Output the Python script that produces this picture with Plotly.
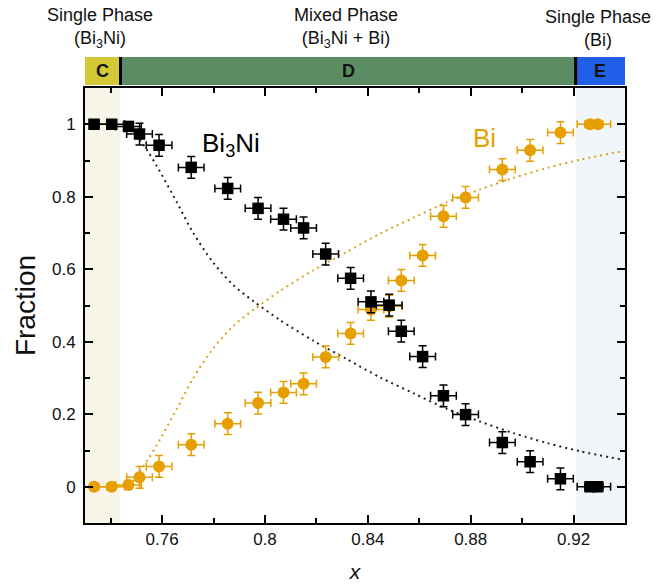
import plotly.graph_objects as go

# ---- data ----
x_comp = [0.7335, 0.7404, 0.7469, 0.7512, 0.7588, 0.7713, 0.7855, 0.7973, 0.8072, 0.8150,
          0.8236, 0.8333, 0.8412, 0.8483, 0.8530, 0.8613, 0.8694, 0.8780, 0.8923, 0.9031,
          0.9149, 0.9264, 0.9294]
bi3ni_frac = [1.0, 1.0, 0.994, 0.973, 0.942, 0.881, 0.823, 0.768, 0.738, 0.714,
              0.642, 0.575, 0.510, 0.501, 0.429, 0.359, 0.251, 0.199, 0.122, 0.069,
              0.022, 0.0, 0.0]
bi_frac = [0.0, 0.0, 0.005, 0.026, 0.056, 0.116, 0.174, 0.231, 0.260, 0.284,
           0.358, 0.423, 0.489, 0.498, 0.569, 0.638, 0.746, 0.798, 0.875, 0.928,
           0.977, 1.0, 1.0]
x_err = [0.005] * 23
y_err = [0.0, 0.0, 0.012] + [0.03] * 18 + [0.0, 0.0]

# model curves (dotted)
x_model = [0.7475, 0.7500, 0.7542, 0.7579, 0.7657, 0.7721, 0.7799, 0.7877, 0.7955, 0.8058,
           0.8188, 0.8318, 0.8447, 0.8577, 0.8707, 0.8836, 0.8966, 0.9096, 0.9225, 0.9387]
model_bi3ni = [1.0, 0.972, 0.928, 0.885, 0.785, 0.700, 0.618, 0.556, 0.512, 0.460,
               0.403, 0.352, 0.302, 0.258, 0.215, 0.180, 0.148, 0.121, 0.098, 0.075]
model_bi = [0.0, 0.028, 0.072, 0.115, 0.215, 0.300, 0.382, 0.444, 0.488, 0.540,
            0.597, 0.648, 0.698, 0.742, 0.785, 0.820, 0.852, 0.879, 0.902, 0.925]

x_range = [0.73, 0.94]
y_range = [-0.1, 1.1]
c_edge = 0.7438
e_edge = 0.9208

BLACK = "#000000"
ORANGE = "#E69F00"
FONT = "Liberation Sans, Arial, Helvetica, sans-serif"

fig = go.Figure()

fig.add_trace(go.Scatter(x=x_model, y=model_bi3ni, mode="lines",
                         line=dict(color="#222222", width=2, dash="2px,4px", shape="spline", smoothing=0.8),
                         hoverinfo="skip", showlegend=False))
fig.add_trace(go.Scatter(x=x_model, y=model_bi, mode="lines",
                         line=dict(color="#D9A21C", width=2, dash="2px,4px", shape="spline", smoothing=0.8),
                         hoverinfo="skip", showlegend=False))

fig.add_trace(go.Scatter(
    x=x_comp, y=bi_frac, mode="markers",
    marker=dict(symbol="circle", size=12, color=ORANGE, line=dict(width=0)),
    error_x=dict(type="data", array=x_err, color=ORANGE, thickness=1.5, width=4),
    error_y=dict(type="data", array=y_err, color=ORANGE, thickness=1.5, width=4),
    showlegend=False))
fig.add_trace(go.Scatter(
    x=x_comp, y=bi3ni_frac, mode="markers",
    marker=dict(symbol="square", size=11.5, color=BLACK, line=dict(width=0)),
    error_x=dict(type="data", array=x_err, color=BLACK, thickness=1.5, width=4),
    error_y=dict(type="data", array=y_err, color=BLACK, thickness=1.5, width=4),
    showlegend=False))

shapes = [
    dict(type="rect", xref="x", yref="y", x0=x_range[0], x1=c_edge, y0=y_range[0], y1=y_range[1],
         fillcolor="#F8F6E9", line=dict(width=0), layer="below"),
    dict(type="rect", xref="x", yref="y", x0=e_edge, x1=x_range[1], y0=y_range[0], y1=y_range[1],
         fillcolor="#F1F6FB", line=dict(width=0), layer="below"),
]
bar_y0, bar_y1 = 1.0069, 1.0713
shapes += [
    dict(type="rect", xref="x", yref="paper", x0=x_range[0], x1=c_edge, y0=bar_y0, y1=bar_y1,
         fillcolor="#D3C936", line=dict(width=0), layer="below"),
    dict(type="rect", xref="x", yref="paper", x0=c_edge, x1=e_edge, y0=bar_y0, y1=bar_y1,
         fillcolor="#5A8D63", line=dict(width=0), layer="below"),
    dict(type="rect", xref="x", yref="paper", x0=e_edge, x1=x_range[1], y0=bar_y0, y1=bar_y1,
         fillcolor="#1F60E6", line=dict(width=0), layer="below"),
    dict(type="line", xref="x", yref="paper", x0=c_edge, x1=c_edge, y0=bar_y0, y1=bar_y1,
         line=dict(color=BLACK, width=3)),
    dict(type="line", xref="x", yref="paper", x0=e_edge, x1=e_edge, y0=bar_y0, y1=bar_y1,
         line=dict(color=BLACK, width=3)),
]

lbl_font = dict(size=18, color="#111111", family=FONT)
bar_font = dict(size=18, color="#111111", family=FONT)
annotations = [
    dict(text="<b>C</b>", x=(x_range[0] + c_edge) / 2, xref="x", y=(bar_y0 + bar_y1) / 2, yref="paper",
         xanchor="center", yanchor="middle", showarrow=False, font=bar_font),
    dict(text="<b>D</b>", x=(c_edge + e_edge) / 2, xref="x", y=(bar_y0 + bar_y1) / 2, yref="paper",
         xanchor="center", yanchor="middle", showarrow=False, font=bar_font),
    dict(text="<b>E</b>", x=(e_edge + x_range[1]) / 2, xref="x", y=(bar_y0 + bar_y1) / 2, yref="paper",
         xanchor="center", yanchor="middle", showarrow=False, font=bar_font),
    dict(text="Single Phase<br>(Bi<sub>3</sub>Ni)", x=0.028, xref="paper", y=1.137, yref="paper",
         xanchor="center", yanchor="middle", showarrow=False, font=lbl_font),
    dict(text="Mixed Phase<br>(Bi<sub>3</sub>Ni + Bi)", x=0.483, xref="paper", y=1.137, yref="paper",
         xanchor="center", yanchor="middle", showarrow=False, font=lbl_font),
    dict(text="Single Phase<br>(Bi)", x=0.95, xref="paper", y=1.137, yref="paper",
         xanchor="center", yanchor="middle", showarrow=False, font=lbl_font),
    dict(text="Bi<sub>3</sub>Ni", x=0.7868, y=0.943, xref="x", yref="y", showarrow=False,
         xanchor="center", yanchor="middle", font=dict(size=26, color=BLACK, family=FONT)),
    dict(text="Bi", x=0.8853, y=0.962, xref="x", yref="y", showarrow=False,
         xanchor="center", yanchor="middle", font=dict(size=26, color=ORANGE, family=FONT)),
]

axis_common = dict(showline=True, linecolor=BLACK, linewidth=2, mirror="ticks",
                   ticks="inside", ticklen=8, tickwidth=2, tickcolor=BLACK,
                   showgrid=False, zeroline=False, automargin=False,
                   tickfont=dict(size=17, color="#111111", family=FONT))

fig.update_layout(
    width=657, height=588,
    margin=dict(l=85, r=32, t=88, b=65),
    paper_bgcolor="white", plot_bgcolor="rgba(0,0,0,0)",
    shapes=shapes, annotations=annotations,
    font=dict(family=FONT),
    xaxis=dict(range=x_range, tick0=0.72, dtick=0.04,
               minor=dict(dtick=0.02, tick0=0.72, ticks="inside", ticklen=5, tickwidth=2, tickcolor=BLACK),
               title=dict(text="<i>x</i>", font=dict(size=21, color="#111111", family=FONT), standoff=16),
               **axis_common),
    yaxis=dict(range=y_range, tick0=0, dtick=0.2,
               minor=dict(dtick=0.1, tick0=0, ticks="inside", ticklen=5, tickwidth=2, tickcolor=BLACK),
               title=dict(text="Fraction", font=dict(size=28, color="#111111", family=FONT), standoff=8),
               ticklabelstandoff=4,
               **axis_common),
)

fig.write_html("out.html")
